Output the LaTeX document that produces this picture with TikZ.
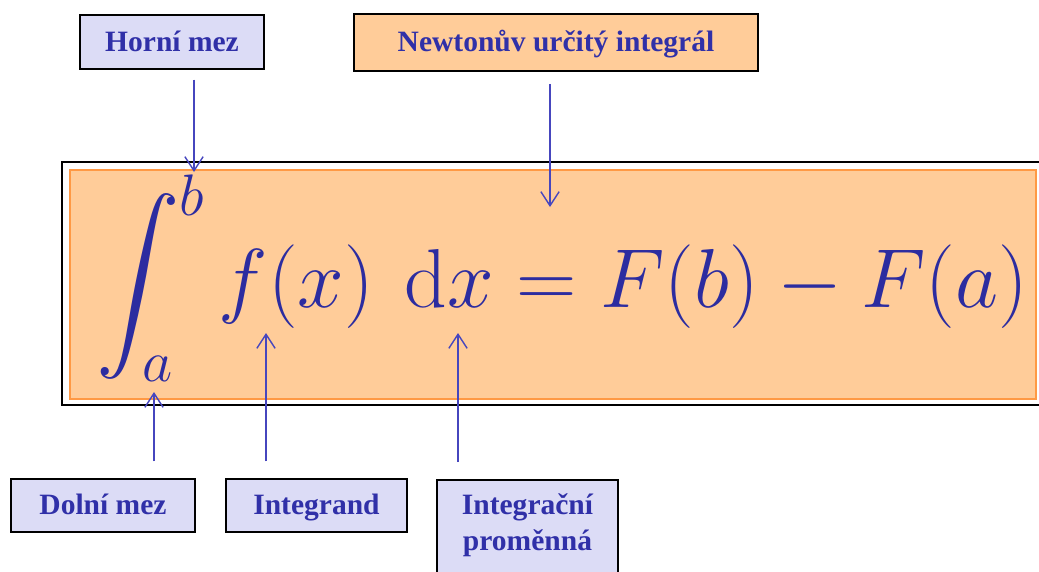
\RequirePackage{fix-cm}
\documentclass[tikz,border=0pt]{standalone}
\DeclareFontFamily{OMX}{cmex}{}
\DeclareFontShape{OMX}{cmex}{m}{n}{<->cmex10}{}
\usepackage{fontspec}
\newfontfamily\popisfont{Liberation Serif}
\usetikzlibrary{arrows.meta}
\definecolor{popis}{RGB}{48,48,168}
\definecolor{sipkabarva}{RGB}{70,70,190}
\definecolor{levandule}{RGB}{220,220,246}
\definecolor{oranz}{RGB}{255,204,153}
\definecolor{oranzokraj}{RGB}{255,153,68}
\definecolor{vzorecbarva}{RGB}{44,44,160}
\begin{document}
\begin{tikzpicture}[x=0.025cm,y=-0.025cm,>={Straight Barb[length=10pt,width=13pt]},
    popisek/.style={draw=black,line width=1.2pt,text=popis,inner sep=0pt,
      font=\popisfont\fontsize{21}{25.6}\selectfont\bfseries,text height=15pt,text depth=2pt},
    sipka/.style={->,draw=sipkabarva,line width=1pt}]
    \clip (0,0) rectangle (1039,572);
    % ramecek se vzorcem
    \draw[line width=1pt] (62,162) rectangle (1050,405);
    \filldraw[fill=oranz,draw=oranzokraj,line width=1pt] (70,170) rectangle (1036,399);
    \node[anchor=base west,inner sep=0pt,text=vzorecbarva,font=\fontsize{59.5}{70}\selectfont]
      (vzorec) at (96,307) {$\displaystyle\int_a^b f(x)\mkern6.5mu\mathrm{d}x = F(b) - F(a)$};
    % hroty sipek
    \coordinate (hrotb) at (194,172);
    \coordinate (hrotnewton) at (550,207);
    \coordinate (hrota) at (154,392);
    \coordinate (hrotf) at (266,333);
    \coordinate (hrotdx) at (458,333);
    % popisky nahore
    \node[popisek,fill=levandule,minimum width=4.6cm,minimum height=1.35cm]
      (horni) at (172,42) {Horní mez};
    \node[popisek,fill=oranz,minimum width=10.1cm,minimum height=1.425cm]
      (newton) at (556,42.5) {Newtonův určitý integrál};
    % popisky dole
    \node[popisek,fill=levandule,minimum width=4.6cm,minimum height=1.325cm]
      (dolni) at (103,505.5) {Dolní mez};
    \node[popisek,fill=levandule,minimum width=4.525cm,minimum height=1.325cm]
      (integrand) at (316.5,505.5) {Integrand};
    \node[popisek,fill=levandule,minimum width=4.525cm,align=center,anchor=north,
      text height=1.775cm,text depth=1.25cm] (promenna) at (527.5,479) {Integrační\\proměnná};
    % sipky
    \draw[sipka,shorten <=7pt] (horni.south -| hrotb) -- (hrotb);
    \draw[sipka,shorten <=8.5pt] (newton.south -| hrotnewton) -- (hrotnewton);
    \draw[sipka,shorten <=12pt] (dolni.north -| hrota) -- (hrota);
    \draw[sipka,shorten <=12pt] (integrand.north -| hrotf) -- (hrotf);
    \draw[sipka,shorten <=12pt] (promenna.north -| hrotdx) -- (hrotdx);
\end{tikzpicture}
\end{document}
